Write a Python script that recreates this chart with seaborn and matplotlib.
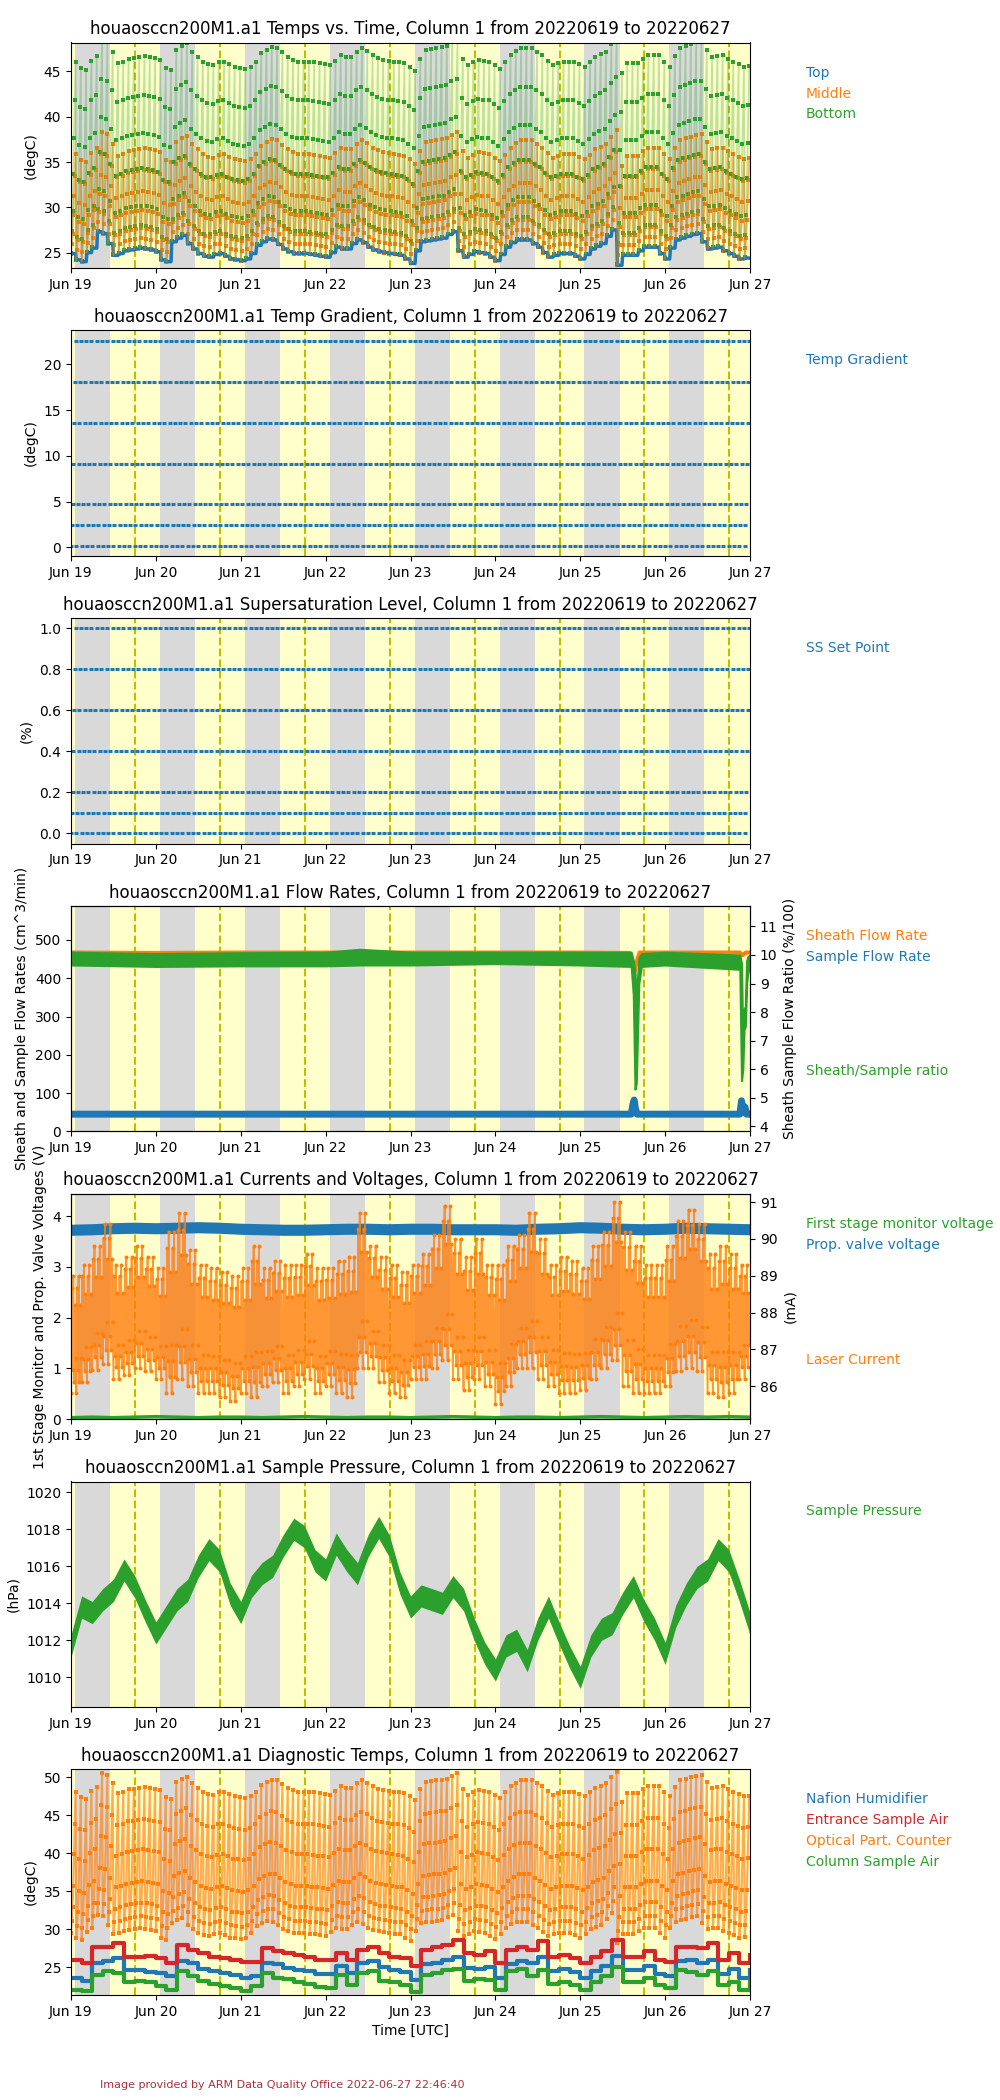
import numpy as np
import pandas as pd
import matplotlib
matplotlib.use('Agg')
import matplotlib.pyplot as plt
import matplotlib.dates as mdates
import seaborn as sns

# ── Data ─────────────────────────────────────────────────────────────────
START = pd.Timestamp('2022-06-19')
N_DAYS = 8
TITLE_TAIL = ', Column 1 from 20220619 to 20220627'
DS = 'houaosccn200M1.a1'

# day / night marks, hours UTC for each day
sunset_hr = [1.2, 1.2, 1.2, 1.2, 1.2, 1.2, 1.2, 1.2]
sunrise_hr = [11.1, 11.1, 11.1, 11.1, 11.1, 11.1, 11.1, 11.1]
noon_hr = [18.15, 18.15, 18.15, 18.15, 18.15, 18.15, 18.15, 18.15]

# supersaturation cycle levels
ss_levels = [0.0, 0.1, 0.2, 0.4, 0.6, 0.8, 1.0]
grad_levels = [0.2, 2.4, 4.7, 9.1, 13.6, 18.1, 22.6]
middle_offsets = [0.0, 1.1, 2.2, 4.2, 6.3, 8.6, 11.0]
bottom_offsets = [0.1, 2.5, 4.7, 8.8, 12.7, 16.9, 21.2]
opc_offsets = [4.6, 6.2, 8.0, 10.8, 15.0, 19.0, 23.2]
# where the laser current sits inside its envelope at each step of a cycle
laser_pattern = [0.0, 0.9, 0.2, 1.0, 0.1, 0.75, 0.3]

# column top temperature, one value per 1.5 h cycle (degC)
top_base = [24.9, 24.2, 24.0, 25.0, 25.5, 27.3, 27.1, 26.0,
            24.7, 24.9, 25.2, 25.3, 25.4, 25.5, 25.4, 25.3,
            25.1, 24.2, 24.0, 26.2, 26.6, 26.9, 26.0, 25.4,
            24.9, 24.6, 24.5, 24.8, 24.9, 24.6, 24.3, 24.2,
            24.1, 24.3, 24.9, 25.8, 26.2, 26.5, 26.4, 25.9,
            25.4, 25.1, 24.9, 24.9, 24.9, 24.8, 24.7, 24.6,
            24.5, 25.0, 25.6, 25.4, 25.4, 26.0, 26.4, 26.1,
            25.6, 25.3, 25.1, 25.0, 24.9, 24.8, 24.7, 24.3,
            23.8, 25.2, 26.2, 26.3, 26.4, 26.5, 26.6, 27.0,
            27.3, 25.2, 24.5, 24.8, 25.1, 25.0, 24.9, 24.5,
            24.1, 24.8, 25.6, 26.1, 26.4, 26.4, 26.4, 26.0,
            25.6, 25.0, 24.5, 24.7, 24.9, 24.9, 24.9, 24.6,
            24.3, 24.8, 25.4, 25.7, 26.0, 26.8, 27.5, 23.6,
            24.7, 24.7, 24.7, 25.2, 25.6, 25.6, 25.6, 24.9,
            24.3, 25.5, 26.4, 26.6, 26.8, 27.0, 27.1, 26.2,
            25.4, 25.5, 25.6, 25.2, 24.9, 24.6, 24.3, 24.4]

# laser current envelope per 3 h slot (mA)
laser_hi = [89.0, 89.3, 89.8, 90.4, 89.3, 89.5, 89.8, 89.5,
            89.2, 90.2, 90.7, 89.7, 89.3, 89.2, 89.1, 89.0,
            89.2, 89.8, 89.2, 89.4, 89.3, 89.3, 89.6, 89.2,
            89.2, 89.4, 89.5, 90.7, 89.8, 89.5, 89.3, 89.1,
            89.3, 89.6, 90.1, 90.9, 90.0, 89.5, 90.0, 89.3,
            89.3, 89.8, 90.1, 90.7, 90.0, 89.3, 89.5, 89.4,
            89.2, 89.8, 90.2, 91.0, 90.2, 89.8, 89.3, 89.3,
            89.8, 90.5, 90.8, 90.4, 89.6, 89.8, 89.6, 89.3]
laser_lo = [85.8, 86.1, 86.45, 86.6, 86.2, 86.3, 86.5, 86.4,
            86.2, 85.8, 86.2, 86.0, 85.8, 85.8, 85.7, 85.6,
            85.8, 85.7, 86.0, 86.1, 85.8, 86.0, 86.2, 85.8,
            86.0, 85.8, 85.7, 86.5, 86.5, 86.1, 85.8, 85.7,
            86.2, 86.2, 86.5, 86.7, 86.2, 85.9, 86.2, 86.0,
            85.5, 86.0, 86.5, 86.5, 86.2, 86.0, 85.8, 85.8,
            85.9, 86.2, 86.5, 86.7, 86.0, 85.8, 85.8, 85.8,
            86.0, 86.4, 86.5, 86.4, 85.8, 85.7, 85.8, 86.2]

# 6 h values (V)
prop_valve = [3.72, 3.73, 3.75, 3.76, 3.75, 3.76, 3.77, 3.76, 3.74, 3.73, 3.72,
              3.72, 3.73, 3.74, 3.74, 3.73, 3.74, 3.74, 3.73, 3.73, 3.73, 3.72,
              3.74, 3.75, 3.77, 3.76, 3.74, 3.73, 3.74, 3.76, 3.75, 3.74, 3.73]
stage1 = [0.03, 0.04, 0.03, 0.04, 0.05, 0.04, 0.03, 0.04, 0.04, 0.03, 0.04,
          0.05, 0.04, 0.03, 0.04, 0.04, 0.03, 0.04, 0.05, 0.04, 0.03, 0.04,
          0.04, 0.03, 0.04, 0.05, 0.04, 0.03, 0.04, 0.05, 0.04, 0.05, 0.04]

# flow rates, irregular times in days from start
sheath_t = [0, 1, 2, 3, 4, 5, 6, 6.58, 6.62, 6.64, 6.66, 6.70, 7, 7.88, 7.91, 7.95, 8]
sheath = [467, 466, 467, 467, 467, 467, 467, 466, 440, 418, 440, 467, 467, 467, 460, 467, 467]
sample_t = [0, 6.6, 6.62, 6.635, 6.65, 6.67, 7.88, 7.9, 7.92, 7.94, 7.96, 8]
sample = [45, 45, 70, 82, 60, 45, 45, 80, 50, 64, 45, 45]
ratio_t = [0, 1, 2, 3, 3.4, 4, 5, 6, 6.6, 6.625, 6.645, 6.66, 6.69, 6.72, 7,
           7.88, 7.9, 7.915, 7.93, 7.945, 7.96, 7.975, 8]
ratio_lo = [9.65, 9.6, 9.62, 9.62, 9.65, 9.65, 9.7, 9.65, 9.6, 8.6, 5.3, 5.5, 9.0,
            9.6, 9.65, 9.5, 5.6, 6.0, 7.4, 7.5, 9.0, 9.4, 9.5]
ratio_hi = [10.1, 10.05, 10.08, 10.1, 10.2, 10.1, 10.1, 10.1, 10.1, 9.8, 9.4, 8.5,
            9.9, 10.05, 10.1, 10.0, 9.7, 6.8, 8.1, 8.2, 9.8, 9.95, 10.0]

# sample pressure centre every 3 h (hPa) and band half width
pressure = [1011.7, 1013.8, 1013.5, 1014.2, 1014.7, 1015.8, 1014.9, 1013.6,
            1012.4, 1013.3, 1014.2, 1014.7, 1016.0, 1016.9, 1016.3, 1014.5,
            1013.5, 1014.9, 1015.6, 1016.0, 1017.1, 1018.0, 1017.6, 1016.3,
            1015.8, 1017.2, 1016.3, 1015.6, 1017.1, 1018.1, 1017.1, 1015.1,
            1013.8, 1014.4, 1014.2, 1014.0, 1014.9, 1014.2, 1012.6, 1011.3,
            1010.4, 1011.7, 1012.0, 1010.9, 1012.6, 1013.8, 1012.4, 1011.1,
            1010.0, 1011.7, 1012.6, 1012.9, 1014.0, 1014.9, 1013.6, 1012.6,
            1011.3, 1013.3, 1014.5, 1015.4, 1015.8, 1016.9, 1016.3, 1014.7, 1012.9]
pressure_hw = 0.6

# diagnostic temperatures every 3 h (degC)
entrance_air = [26.0, 25.5, 27.7, 27.7, 28.2, 26.4, 26.4, 26.5, 26.2, 25.5, 27.9,
                27.3, 26.8, 26.4, 26.2, 26.0, 25.7, 25.7, 27.5, 27.1, 26.8, 26.6,
                26.4, 26.0, 26.0, 26.8, 26.0, 27.3, 27.7, 26.8, 26.4, 26.2, 25.1,
                27.3, 27.7, 27.9, 28.6, 26.8, 26.6, 27.1, 25.5, 27.3, 27.7, 27.3,
                28.4, 26.4, 26.6, 26.2, 25.5, 26.4, 27.1, 28.6, 26.4, 26.4, 27.1,
                26.0, 25.7, 27.7, 27.7, 27.5, 28.2, 26.0, 26.8, 25.5, 26.6]
nafion = [23.6, 23.2, 25.5, 25.8, 26.2, 24.6, 24.6, 24.4, 24.2, 23.8, 25.8,
          25.5, 24.8, 24.5, 24.2, 24.0, 23.6, 23.8, 25.6, 25.4, 24.9, 24.6,
          24.5, 24.1, 24.1, 25.2, 24.2, 25.5, 25.8, 25.0, 24.6, 24.4, 23.3,
          25.4, 25.6, 25.9, 26.4, 24.9, 24.7, 25.0, 23.6, 25.4, 25.8, 25.5,
          26.3, 24.5, 24.7, 24.3, 23.6, 24.5, 25.2, 26.5, 24.6, 24.6, 25.2,
          24.1, 23.8, 25.8, 25.9, 25.5, 26.0, 24.1, 24.8, 23.6, 24.6]
column_air = [22.0, 21.8, 24.0, 24.5, 24.2, 23.0, 23.2, 23.0, 22.5, 22.0, 24.5,
              23.8, 23.2, 22.8, 22.5, 22.2, 21.8, 22.5, 24.2, 23.6, 23.4, 23.0,
              22.8, 22.4, 22.3, 24.0, 22.6, 24.2, 24.5, 23.2, 23.0, 22.6, 21.7,
              24.0, 24.2, 24.6, 24.8, 23.2, 23.4, 23.3, 22.0, 24.5, 24.8, 23.8,
              24.6, 22.8, 23.0, 22.6, 22.0, 23.0, 23.8, 25.0, 23.0, 23.0, 23.6,
              22.6, 22.2, 24.6, 24.3, 24.0, 24.5, 22.6, 23.0, 22.0, 23.2]

# ── Colours ──────────────────────────────────────────────────────────────
BLUE, ORANGE, GREEN, RED = '#1f77b4', '#ff7f0e', '#2ca02c', '#d62728'
NIGHT, DAY = '#d9d9d9', '#ffffcc'

# ── Time grids ───────────────────────────────────────────────────────────
CYCLE_H = 1.5
N_LEV = len(ss_levels)
n_cyc = len(top_base)
step_h = CYCLE_H / N_LEV
t_step = START + pd.to_timedelta(np.arange(n_cyc * N_LEV) * step_h, unit='h')
lev = np.tile(np.arange(N_LEV), n_cyc)
base = np.repeat(top_base, N_LEV)

t_slot = START + pd.to_timedelta(np.arange(len(pressure)) * 3, unit='h')
t_6h = START + pd.to_timedelta(np.arange(len(prop_valve)) * 6, unit='h')
steps_per_slot = len(t_step) // len(laser_hi)
lo_s = np.repeat(laser_lo, steps_per_slot)
hi_s = np.repeat(laser_hi, steps_per_slot)
laser = lo_s + np.array(laser_pattern)[lev] * (hi_s - lo_s)


def days(lst):
    return START + pd.to_timedelta(np.array(lst), unit='D')


# ── Figure ───────────────────────────────────────────────────────────────
W, H = 1000, 2100
fig = plt.figure(figsize=(10, 21), dpi=100)
AX_L, AX_R = 71, 750
TOP0, STEP, AX_H = 42.5, 287.8, 225.5
XLIM = (START, START + pd.Timedelta(days=N_DAYS))


def make_ax(i):
    top = TOP0 + STEP * i
    ax = fig.add_axes([AX_L / W, 1 - (top + AX_H) / H, (AX_R - AX_L) / W, AX_H / H])
    ax.set_facecolor(DAY)
    for d in range(N_DAYS):
        day = START + pd.Timedelta(days=d)
        ax.axvspan(day + pd.Timedelta(hours=sunset_hr[d]),
                   day + pd.Timedelta(hours=sunrise_hr[d]),
                   color=NIGHT, lw=0, zorder=0)
        ax.axvline(day + pd.Timedelta(hours=noon_hr[d]), color='y', ls='--', lw=1.5, zorder=0.5)
    return ax, top


def finish(ax, ylabel, xlabel=''):
    ax.set_xlim(*XLIM)
    ax.xaxis.set_major_locator(mdates.DayLocator())
    ax.xaxis.set_major_formatter(mdates.DateFormatter('%b %d'))
    ax.set_xlabel(xlabel)
    ax.set_ylabel(ylabel)


def legend(top, entries, start=30):
    for k, (txt, col) in enumerate(entries):
        off = start + 21 * k
        fig.text(806 / W, 1 - (top + off) / H, txt, color=col, fontsize=10, va='center')


def dotted_series(ax, t, y, col, lw=1.2, alpha=0.35, s=10):
    sns.lineplot(x=t, y=y, ax=ax, color=col, lw=lw, alpha=alpha, estimator=None, sort=False)
    sns.scatterplot(x=t, y=y, ax=ax, color=col, s=s, marker='s', linewidth=0)


def level_rows(ax, y):
    ax.plot(t_step, y, ls='none', marker='_', ms=3.3, mew=2.2, color=BLUE)


# 1 Temps vs. Time
ax, top = make_ax(0)
sns.lineplot(x=t_step, y=base, ax=ax, color=BLUE, lw=2.5, estimator=None, sort=False)
dotted_series(ax, t_step, base + np.array(middle_offsets)[lev], ORANGE, alpha=0.6)
dotted_series(ax, t_step, base + np.array(bottom_offsets)[lev], GREEN, alpha=0.3)
ax.set_ylim(23.3, 48.2)
finish(ax, '(degC)')
ax.set_title(f'{DS} Temps vs. Time{TITLE_TAIL}')
legend(top, [('Top', BLUE), ('Middle', ORANGE), ('Bottom', GREEN)])

# 2 Temp Gradient
ax, top = make_ax(1)
level_rows(ax, np.array(grad_levels)[lev])
ax.set_ylim(-0.92, 23.72)
ax.set_yticks([0, 5, 10, 15, 20])
finish(ax, '(degC)')
ax.set_title(f'{DS} Temp Gradient{TITLE_TAIL}')
legend(top, [('Temp Gradient', BLUE)])

# 3 Supersaturation
ax, top = make_ax(2)
level_rows(ax, np.array(ss_levels)[lev])
ax.set_ylim(-0.05, 1.05)
ax.set_yticks([0.0, 0.2, 0.4, 0.6, 0.8, 1.0])
finish(ax, '(%)')
ax.set_title(f'{DS} Supersaturation Level{TITLE_TAIL}')
legend(top, [('SS Set Point', BLUE)])

# 4 Flow Rates
ax, top = make_ax(3)
sns.lineplot(x=days(sheath_t), y=sheath, ax=ax, color=ORANGE, lw=3, estimator=None, sort=False)
sns.lineplot(x=days(sample_t), y=sample, ax=ax, color=BLUE, lw=5, estimator=None, sort=False)
ax.set_ylim(0, 589)
finish(ax, 'Sheath and Sample Flow Rates (cm^3/min)')
ax2 = ax.twinx()
ax2.fill_between(days(ratio_t), ratio_lo, ratio_hi, color=GREEN, lw=1.5, edgecolor=GREEN)
ax2.set_ylim(3.82, 11.72)
finish(ax2, 'Sheath Sample Flow Ratio (%/100)')
ax.set_title(f'{DS} Flow Rates{TITLE_TAIL}')
legend(top, [('Sheath Flow Rate', ORANGE), ('Sample Flow Rate', BLUE)])
legend(top, [('Sheath/Sample ratio', GREEN)], start=165)

# 5 Currents and Voltages
ax, top = make_ax(4)
sns.lineplot(x=t_6h, y=prop_valve, ax=ax, color=BLUE, lw=8, estimator=None, sort=False)
sns.lineplot(x=t_6h, y=stage1, ax=ax, color=GREEN, lw=2.5, estimator=None, sort=False)
ax.set_ylim(0, 4.44)
finish(ax, '1st Stage Monitor and Prop. Valve Voltages (V)')
ax2 = ax.twinx()
sns.lineplot(x=t_step, y=laser, ax=ax2, color=ORANGE, lw=1.3, alpha=0.8, estimator=None, sort=False)
sns.scatterplot(x=t_step, y=laser, ax=ax2, color=ORANGE, s=8, linewidth=0)
ax2.set_ylim(85.1, 91.23)
finish(ax2, '(mA)')
ax.set_title(f'{DS} Currents and Voltages{TITLE_TAIL}')
legend(top, [('First stage monitor voltage', GREEN), ('Prop. valve voltage', BLUE)])
legend(top, [('Laser Current', ORANGE)], start=166)

# 6 Sample Pressure
ax, top = make_ax(5)
p = np.array(pressure)
ax.fill_between(t_slot, p - pressure_hw, p + pressure_hw, color=GREEN, lw=0)
sns.lineplot(x=t_slot, y=p, ax=ax, color=GREEN, lw=2, estimator=None, sort=False)
ax.set_ylim(1008.4, 1020.58)
finish(ax, '(hPa)')
ax.set_title(f'{DS} Sample Pressure{TITLE_TAIL}')
legend(top, [('Sample Pressure', GREEN)])

# 7 Diagnostic Temps
ax, top = make_ax(6)
dotted_series(ax, t_step, base + np.array(opc_offsets)[lev], ORANGE, lw=1.5, alpha=0.65)
for vals, col in [(nafion, BLUE), (entrance_air, RED), (column_air, GREEN)]:
    ax.plot(t_slot, vals, color=col, lw=3, drawstyle='steps-post')
ax.set_ylim(21.36, 51.05)
finish(ax, '(degC)', 'Time [UTC]')
ax.set_title(f'{DS} Diagnostic Temps{TITLE_TAIL}')
legend(top, [('Nafion Humidifier', BLUE), ('Entrance Sample Air', RED),
             ('Optical Part. Counter', ORANGE), ('Column Sample Air', GREEN)])

fig.text(100 / W, 1 - 2085 / H, 'Image provided by ARM Data Quality Office 2022-06-27 22:46:40',
         color='#a8323e', fontsize=8, va='center')

fig.savefig('out.png', dpi=100)
